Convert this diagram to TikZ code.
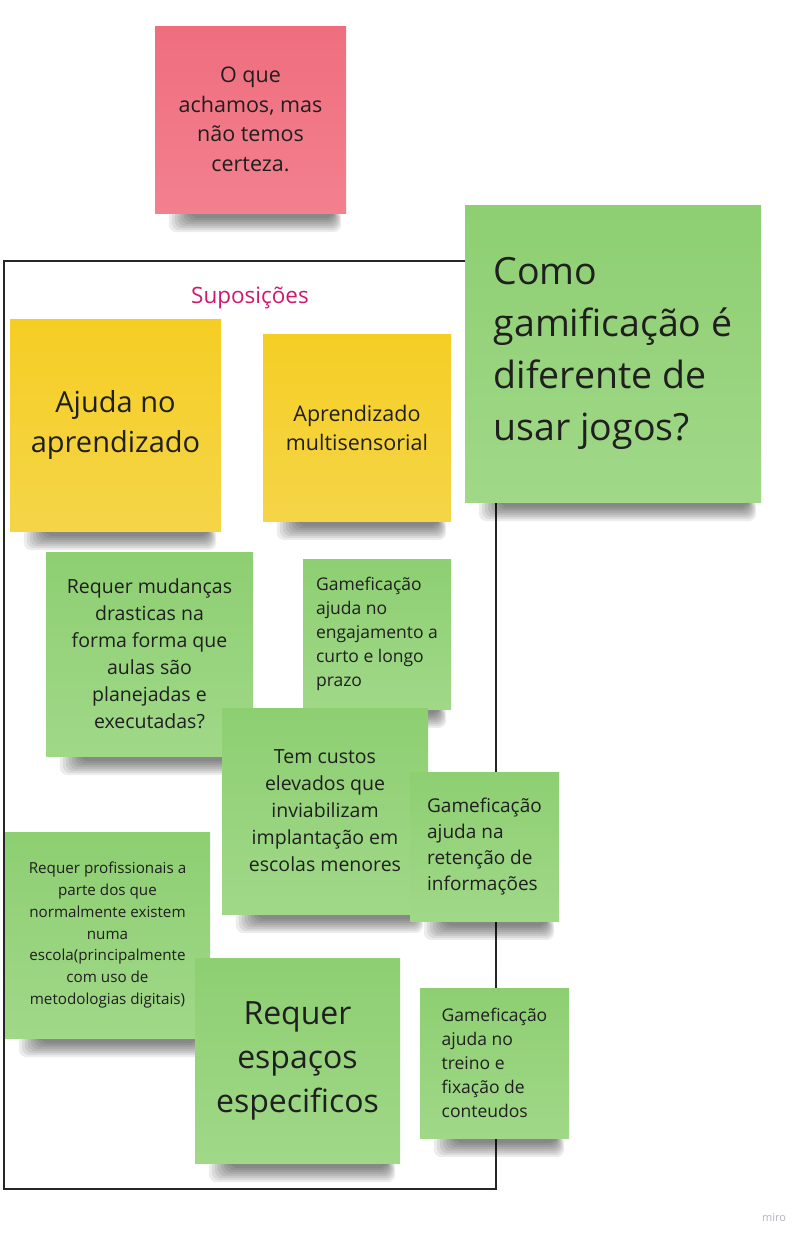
\documentclass[tikz,border=0pt]{standalone}
\usepackage{fontspec}
\setmainfont{Open Sans}
\usetikzlibrary{backgrounds}

\definecolor{notegreen}{HTML}{8ECF72}
\definecolor{notegreenlo}{HTML}{A0D888}
\definecolor{noteyellow}{HTML}{F5CE24}
\definecolor{noteyellowlo}{HTML}{F5D548}
\definecolor{notepink}{HTML}{EF6E7E}
\definecolor{notepinklo}{HTML}{F3808F}
\definecolor{notetext}{HTML}{1F1F1F}
\definecolor{titlemagenta}{HTML}{D0186E}
\definecolor{frameblack}{HTML}{262626}
\definecolor{logogray}{HTML}{B4B4BC}

\newcommand{\notefont}[2]{\fontsize{#1}{#2}\selectfont}

\tikzset{
  postit/.style={inner sep=0pt, align=center, text=notetext},
  greennote/.style={postit, top color=notegreen, bottom color=notegreenlo},
  yellownote/.style={postit, top color=noteyellow, bottom color=noteyellowlo},
  pinknote/.style={postit, top color=notepink, bottom color=notepinklo},
  shadowband/.style={black, opacity=0.075, rounded corners=8pt},
}

\begin{document}
\begin{tikzpicture}[x=1pt,y=-1pt]
  \useasboundingbox (0,0) rectangle (805,1240);

  \node[text=titlemagenta, font=\notefont{22.5}{30}] (title) at (250,298) {Suposições};

  \node[pinknote, minimum width=191pt, minimum height=187pt, font=\notefont{21.5}{29.5}]
    (duvida) at (250.5,119.5) {O que\\achamos, mas\\não temos\\certeza.};

  \node[greennote, minimum width=296pt, minimum height=297pt, align=left, font=\notefont{37.5}{52}]
    (pergunta) at (613,353.5) {Como\\gamificação é\\diferente de\\usar jogos?};

  \node[yellownote, minimum width=211pt, minimum height=212pt, font=\notefont{29}{40}]
    (ajuda) at (115.5,425) {Ajuda no\\aprendizado};
  \node[yellownote, minimum width=188pt, minimum height=187pt, font=\notefont{21.5}{29}]
    (multi) at (357,427.5) {Aprendizado\\multisensorial};

  \node[greennote, minimum width=207pt, minimum height=204pt, font=\notefont{19.5}{27}]
    (mudancas) at (149.5,654) {Requer mudanças\\drasticas na\\forma forma que\\aulas são\\planejadas e\\executadas?};
  \node[greennote, minimum width=148pt, minimum height=150pt, align=left, font=\notefont{17.5}{24}]
    (engaja) at (377,634) {Gameficação\\ajuda no\\engajamento a\\curto e longo\\prazo};
  \node[greennote, minimum width=206pt, minimum height=206pt, font=\notefont{19.5}{27}]
    (custos) at (325,811) {Tem custos\\elevados que\\inviabilizam\\implantação em\\escolas menores};
  \node[greennote, minimum width=149pt, minimum height=149pt, align=left, font=\notefont{19}{25.8}]
    (retencao) at (484.5,846.5) {Gameficação\\ajuda na\\retenção de\\informações};

  \node[greennote, minimum width=205pt, minimum height=206pt, font=\notefont{15.2}{21.8}]
    (profis) at (107.5,935) {Requer profissionais a\\parte dos que\\normalmente existem\\numa\\escola(principalmente\\com uso de\\metodologias digitais)};
  \node[greennote, minimum width=205pt, minimum height=205pt, font=\notefont{32}{44}]
    (espacos) at (297.5,1060.5) {Requer\\espaços\\especificos};
  \node[greennote, minimum width=149pt, minimum height=150pt, align=left, font=\notefont{17.5}{24}]
    (treino) at (494.5,1063) {Gameficação\\ajuda no\\treino e\\fixação de\\conteudos};

  \node[text=logogray, font=\notefont{11}{13}] (logo) at (774,1218) {miro};

  \begin{pgfonlayer}{background}
    \fill[white] (0,0) rectangle (805,1240);
    % frame of the assumptions
    \draw[frameblack, line width=2.5pt] (4,261) rectangle (496,1189);
    % soft shadows under the notes
    \foreach \note in {duvida,pergunta,ajuda,multi,mudancas,engaja,custos,retencao,profis,espacos,treino}
      \foreach \i in {0,...,7}
        \fill[shadowband] ([xshift={(14+3*\i)*1pt}, yshift=4pt]\note.south west)
          rectangle ([xshift={(-5-1.2*\i)*1pt}, yshift={(-19+2*\i)*1pt}]\note.south east);
  \end{pgfonlayer}
\end{tikzpicture}
\end{document}
